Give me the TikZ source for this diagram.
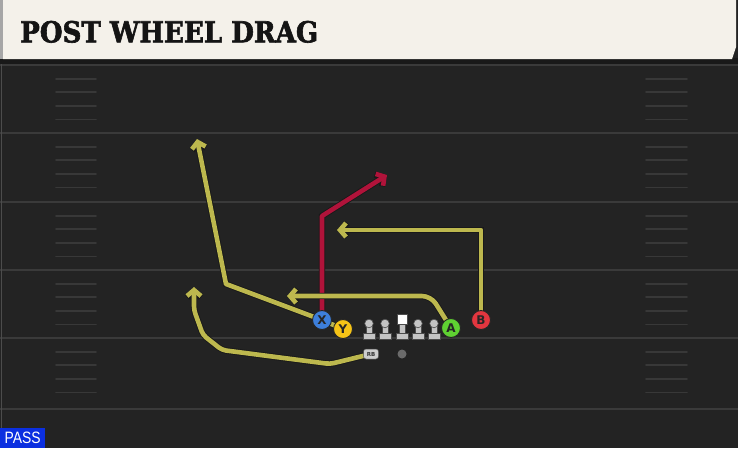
\documentclass[tikz,border=0pt]{standalone}
\usepackage{fontspec}
\setsansfont{DejaVu Sans}
\newfontfamily\titlefont{DejaVu Serif}[FakeBold=2.2]
\newfontfamily\passfont{Liberation Sans}
\usetikzlibrary{arrows.meta}
\definecolor{fieldbg}{HTML}{232323}
\definecolor{yardline}{HTML}{3A3A3A}
\definecolor{hashc}{HTML}{383838}
\definecolor{cream}{HTML}{F4F1EA}
\definecolor{routey}{HTML}{BDB84E}
\definecolor{router}{HTML}{B0133A}
\definecolor{xblue}{HTML}{3D7FDB}
\definecolor{yyellow}{HTML}{F6C417}
\definecolor{agreen}{HTML}{5FD132}
\definecolor{bred}{HTML}{E2363F}
\definecolor{lmgray}{HTML}{C4C4C4}
\definecolor{passblue}{HTML}{0B2FE0}
\pgfdeclarelayer{field}
\pgfdeclarelayer{routes}
\pgfsetlayers{field,routes,main}
\tikzset{
  route/.style={line width=4.6pt, draw=#1, line join=round,
    -{Straight Barb[length=6pt,width=14pt]},
    preaction={draw=black!90, line width=6.4pt, -{Straight Barb[length=6pt,width=14pt]}}},
  player/.style={circle, minimum size=19pt, inner sep=0pt, draw=black!85, line width=0.9pt,
    fill=#1, font=\sffamily\bfseries\fontsize{12}{12}\selectfont, text=black!85},
  rbbox/.style={rounded corners=2.5pt, fill=lmgray!85, draw=black!70, line width=0.5pt,
    minimum width=15pt, minimum height=10pt, inner sep=0pt,
    font=\sffamily\bfseries\fontsize{5.5}{5.5}\selectfont, text=black!80},
  qbdot/.style={circle, fill=black!58, minimum size=9pt, inner sep=0pt},
  lmpart/.style={fill=lmgray, draw=black!70, line width=0.6pt},
  yard/.style={draw=yardline, line width=2pt},
  hash/.style={draw=hashc, line width=1.8pt, line cap=round}
}
\begin{document}
\begin{tikzpicture}[x=1pt,y=-1pt]
\begin{pgfonlayer}{field}
\fill[fieldbg] (0,0) rectangle (738,448);
\useasboundingbox (0,0) rectangle (738,448);
% yard lines
\foreach \yy in {65,133,202,270,338,409} {\draw[yard] (0,\yy) -- (738,\yy);}
% hash marks
\foreach \yy in {65,133,202,270,338} {
  \foreach \o in {13.6,27.2,40.8,54.4} {
    \draw[hash] (56,\yy+\o) -- (96,\yy+\o);
    \draw[hash] (646,\yy+\o) -- (687,\yy+\o);
  }
}
\draw[draw=black!70, line width=1pt] (1,59) -- (1,448);
% header
\fill[black!90] (0,58) rectangle (738,64);
\fill[cream] (3,0) -- (736,0) -- (736,47) -- (732,59) -- (3,59) -- cycle;
\fill[black!35] (0,0) rectangle (3,59);
\end{pgfonlayer}
\node[anchor=south west, inner sep=0pt, text=black!92] (title) at (20,43)
  {\resizebox{298pt}{21.5pt}{\titlefont\bfseries POST WHEEL DRAG}};
% PASS label
\node[fill=passblue, anchor=south west, minimum width=45pt, minimum height=20pt, inner sep=0pt,
  text=white] (pass) at (0,448) {\resizebox{36pt}{11.5pt}{\passfont PASS}};
% linemen
\foreach \x in {369,385,418,434} {
  \path[lmpart] (\x-6,333) rectangle (\x+6,339);
  \path[lmpart] (\x-3,326) rectangle (\x+3,333);
  \path[lmpart] (\x,323.5) circle (4.3);
}
\path[lmpart] (396,333) rectangle (408,339);
\path[lmpart] (399,323) rectangle (405,333);
\path[fill=white, draw=black!70, line width=0.6pt] (397,314) rectangle (407,324);
% players
\node[player=xblue] (X) at (322,320) {X};
\node[player=yyellow] (Y) at (343,329) {Y};
\node[player=agreen] (A) at (451,328) {A};
\node[player=bred] (B) at (481,320) {B};
\node[rbbox] (RB) at (371,354) {RB};
\node[qbdot] (QB) at (402,354) {};
% routes
\begin{pgfonlayer}{routes}
\coordinate (y1) at (226,284);
\coordinate (y2) at (197,139);
\draw[route=routey] (Y.center) -- (X.center) -- (y1) -- (y2);
\coordinate (x1) at (322,216);
\coordinate (x2) at (387,175);
\draw[route=router] (X.center) -- (x1) -- (x2);
\coordinate (a1) at (431,296);
\coordinate (a2) at (287,296);
\draw[route=routey, rounded corners=9pt] (A.center) -- (a1) -- (a2);
\coordinate (b1) at (481,230);
\coordinate (b2) at (337,230);
\draw[route=routey] (B.center) -- (b1) -- (b2);
\coordinate (r1) at (330,364);
\coordinate (r2) at (222,350);
\coordinate (r3) at (203,335);
\coordinate (r4) at (194,310);
\coordinate (r5) at (194,287);
\draw[route=routey, rounded corners=4pt] (RB.center) -- (r1) -- (r2) -- (r3) -- (r4) -- (r5);
\end{pgfonlayer}
\end{tikzpicture}
\end{document}
